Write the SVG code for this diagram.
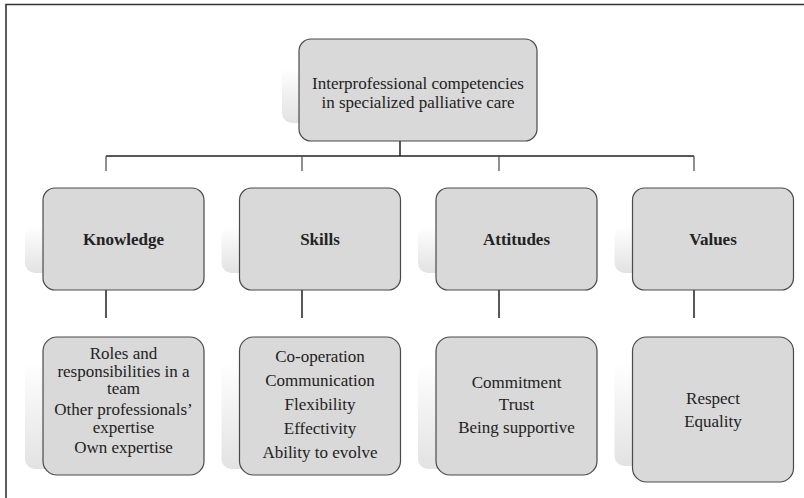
<svg xmlns="http://www.w3.org/2000/svg" width="804" height="498" viewBox="0 0 804 498">
  <defs>
    <linearGradient id="shade" x1="0" y1="0" x2="0" y2="1">
      <stop offset="0" stop-color="#ffffff"/>
      <stop offset="1" stop-color="#e2e2e2"/>
    </linearGradient>
    <style>
      .box { fill: #d9d9d9; stroke: #4a4a4a; stroke-width: 1.2; }
      .shadow { fill: url(#shade); }
      .lbl { font-size: 17px; fill: #222; text-anchor: middle; }
      .head { font-weight: bold; }
      .line { stroke: #222; stroke-width: 1.5; fill: none; }
      .drop { stroke: #555; stroke-width: 1.3; fill: none; }
      .frame { stroke: #333; stroke-width: 1.6; fill: none; }
    </style>
  </defs>

  <rect width="804" height="498" fill="#ffffff"/>
  <path class="frame" d="M6 498 V4.5 H804"/>

  <!-- connectors -->
  <g id="connectors">
    <path class="line" d="M400 126 V156"/>
    <path class="line" d="M106 156 H694"/>
    <path class="drop" d="M106 156 V171 M302 156 V171 M499 156 V171 M694 156 V171"/>
    <path class="line" d="M106 273 V318 M302 273 V318 M499 273 V318 M694 273 V318"/>
  </g>

  <g font-family="Liberation Serif, Times New Roman, Times, serif">
    <!-- root -->
    <g id="root">
      <rect class="shadow" x="282" y="67" width="40" height="56" rx="10"/>
      <rect class="box" x="299" y="39" width="238" height="102" rx="12"/>
      <text class="lbl" x="418" y="89">Interprofessional competencies</text>
      <text class="lbl" x="418" y="108">in specialized palliative care</text>
    </g>

    <!-- categories -->
    <g id="knowledge">
      <rect class="shadow" x="25" y="226" width="40" height="47" rx="10"/>
      <rect class="box" x="43" y="188" width="161" height="102" rx="12"/>
      <text class="lbl head" x="123.5" y="245">Knowledge</text>
    </g>
    <g id="skills">
      <rect class="shadow" x="221.5" y="226" width="40" height="47" rx="10"/>
      <rect class="box" x="239.5" y="188" width="161" height="102" rx="12"/>
      <text class="lbl head" x="320" y="245">Skills</text>
    </g>
    <g id="attitudes">
      <rect class="shadow" x="418" y="226" width="40" height="47" rx="10"/>
      <rect class="box" x="436" y="188" width="161" height="102" rx="12"/>
      <text class="lbl head" x="516.5" y="245">Attitudes</text>
    </g>
    <g id="values">
      <rect class="shadow" x="614.5" y="226" width="40" height="47" rx="10"/>
      <rect class="box" x="632.5" y="188" width="161" height="102" rx="12"/>
      <text class="lbl head" x="713" y="245">Values</text>
    </g>

    <!-- details -->
    <g id="knowledge-items">
      <rect class="shadow" x="25" y="362" width="40" height="107" rx="10"/>
      <rect class="box" x="43" y="337" width="161" height="138" rx="14"/>
      <text class="lbl" x="123.5" y="359">Roles and</text>
      <text class="lbl" x="123.5" y="376.5">responsibilities in a</text>
      <text class="lbl" x="123.5" y="394">team</text>
      <text class="lbl" x="123.5" y="415">Other professionals’</text>
      <text class="lbl" x="123.5" y="432.5">expertise</text>
      <text class="lbl" x="123.5" y="453">Own expertise</text>
    </g>
    <g id="skills-items">
      <rect class="shadow" x="221.5" y="362" width="40" height="107" rx="10"/>
      <rect class="box" x="239.5" y="337" width="161" height="138" rx="14"/>
      <text class="lbl" x="320" y="362">Co-operation</text>
      <text class="lbl" x="320" y="386">Communication</text>
      <text class="lbl" x="320" y="410">Flexibility</text>
      <text class="lbl" x="320" y="434">Effectivity</text>
      <text class="lbl" x="320" y="458">Ability to evolve</text>
    </g>
    <g id="attitudes-items">
      <rect class="shadow" x="418" y="362" width="40" height="107" rx="10"/>
      <rect class="box" x="436" y="337" width="161" height="138" rx="14"/>
      <text class="lbl" x="516.5" y="388">Commitment</text>
      <text class="lbl" x="516.5" y="410">Trust</text>
      <text class="lbl" x="516.5" y="433">Being supportive</text>
    </g>
    <g id="values-items">
      <rect class="shadow" x="614.5" y="362" width="40" height="104" rx="10"/>
      <rect class="box" x="632.5" y="337" width="161" height="145" rx="14"/>
      <text class="lbl" x="713" y="404">Respect</text>
      <text class="lbl" x="713" y="427">Equality</text>
    </g>
  </g>
</svg>
